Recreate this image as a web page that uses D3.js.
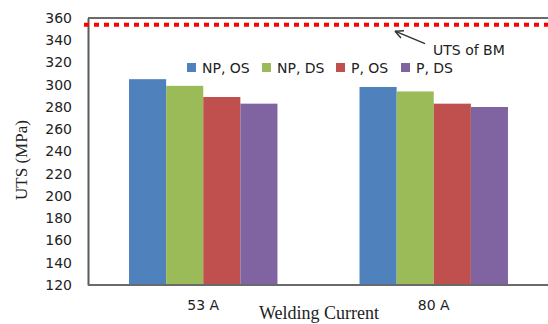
<!DOCTYPE html>
<html><head><meta charset="utf-8">
<script src="https://cdn.jsdelivr.net/npm/d3@7"></script>
<style>html,body{margin:0;padding:0;background:#fff;}</style>
</head><body>
<svg id="chart" width="548" height="324"></svg>
<script>
const categories = ["53 A", "80 A"];
const seriesNames = ["NP, OS", "NP, DS", "P, OS", "P, DS"];
const seriesColors = ["#4f81bd", "#9bbb59", "#c0504d", "#8064a2"];
const values = {
  "NP, OS": [305, 298],
  "NP, DS": [299, 294],
  "P, OS": [289, 283],
  "P, DS": [283, 280]
};
const yTicks = [120, 140, 160, 180, 200, 220, 240, 260, 280, 300, 320, 340, 360];
const bmUTS = 354;

const W = 548, H = 324;
const m = {left: 88, top: 18, right: 0, bottom: 39};
const svg = d3.select("#chart");
const sans = "DejaVu Sans, sans-serif";
const serif = "Liberation Serif, Times New Roman, serif";

const y = d3.scaleLinear().domain([120, 360]).range([H - m.bottom, m.top]);
const x0 = d3.scaleBand().domain(categories).range([m.left, 549]).paddingInner(0.356).paddingOuter(0.178);
const x1 = d3.scaleBand().domain(seriesNames).range([0, x0.bandwidth()]);
const color = d3.scaleOrdinal().domain(seriesNames).range(seriesColors);

// bars
const g = svg.append("g");
categories.forEach((c, ci) => {
  seriesNames.forEach(s => {
    g.append("rect")
      .attr("x", x0(c) + x1(s))
      .attr("y", y(values[s][ci]))
      .attr("width", x1.bandwidth())
      .attr("height", y(120) - y(values[s][ci]))
      .attr("fill", color(s));
  });
});

// top border
svg.append("line").attr("x1", m.left).attr("x2", W).attr("y1", y(360)).attr("y2", y(360))
  .attr("stroke", "#3a3a3a").attr("stroke-width", 1.5);

// y axis
const ya = svg.append("g").attr("transform", `translate(${m.left},0)`)
  .call(d3.axisLeft(y).tickValues(yTicks).tickSize(0).tickPadding(16).tickFormat(d3.format("d")));
ya.select(".domain").attr("stroke", "#5a5a5a").attr("stroke-width", 2);
ya.selectAll("text").attr("font-family", sans).attr("font-size", 14).attr("fill", "#222");

// x axis
const xa = svg.append("g").attr("transform", `translate(0,${y(120)})`)
  .call(d3.axisBottom(x0).tickSize(0).tickPadding(15));
xa.select(".domain").attr("stroke", "#6a6a6a").attr("stroke-width", 2).attr("d", `M${m.left},0H${W}`);
xa.selectAll("text").attr("font-family", sans).attr("font-size", 14).attr("fill", "#222");

// red dotted line for BM
svg.append("line").attr("x1", 84).attr("x2", W).attr("y1", y(bmUTS)).attr("y2", y(bmUTS))
  .attr("stroke", "#ff0000").attr("stroke-width", 4).attr("stroke-dasharray", "5,5");

// annotation
const tipX = 395, tipY = y(bmUTS) + 6.5, tailX = 425, tailY = y(bmUTS) + 19;
svg.append("line").attr("x1", tailX).attr("y1", tailY).attr("x2", tipX).attr("y2", tipY)
  .attr("stroke", "#333").attr("stroke-width", 1.5);
const ang = Math.atan2(tailY - tipY, tailX - tipX);
[0.45, -0.45].forEach(da => {
  svg.append("line").attr("x1", tipX).attr("y1", tipY)
    .attr("x2", tipX + 9 * Math.cos(ang + da)).attr("y2", tipY + 9 * Math.sin(ang + da))
    .attr("stroke", "#333").attr("stroke-width", 1.5);
});
svg.append("text").attr("x", 433).attr("y", 55).attr("font-family", sans).attr("font-size", 14)
  .attr("fill", "#222").text("UTS of BM");

// legend
const legX = [187, 262, 336, 401];
seriesNames.forEach((s, i) => {
  svg.append("rect").attr("x", legX[i]).attr("y", 63).attr("width", 9).attr("height", 9).attr("fill", color(s));
  svg.append("text").attr("x", legX[i] + 15).attr("y", 72.5).attr("font-family", sans).attr("font-size", 14)
    .attr("fill", "#222").text(s);
});

// axis titles
svg.append("text").attr("transform", `translate(27,160) rotate(-90)`).attr("text-anchor", "middle")
  .attr("font-family", serif).attr("font-size", 17).attr("fill", "#222").text("UTS (MPa)");
svg.append("text").attr("x", 319).attr("y", 319).attr("text-anchor", "middle")
  .attr("font-family", serif).attr("font-size", 18).attr("fill", "#222").text("Welding Current");
</script>
</body></html>
